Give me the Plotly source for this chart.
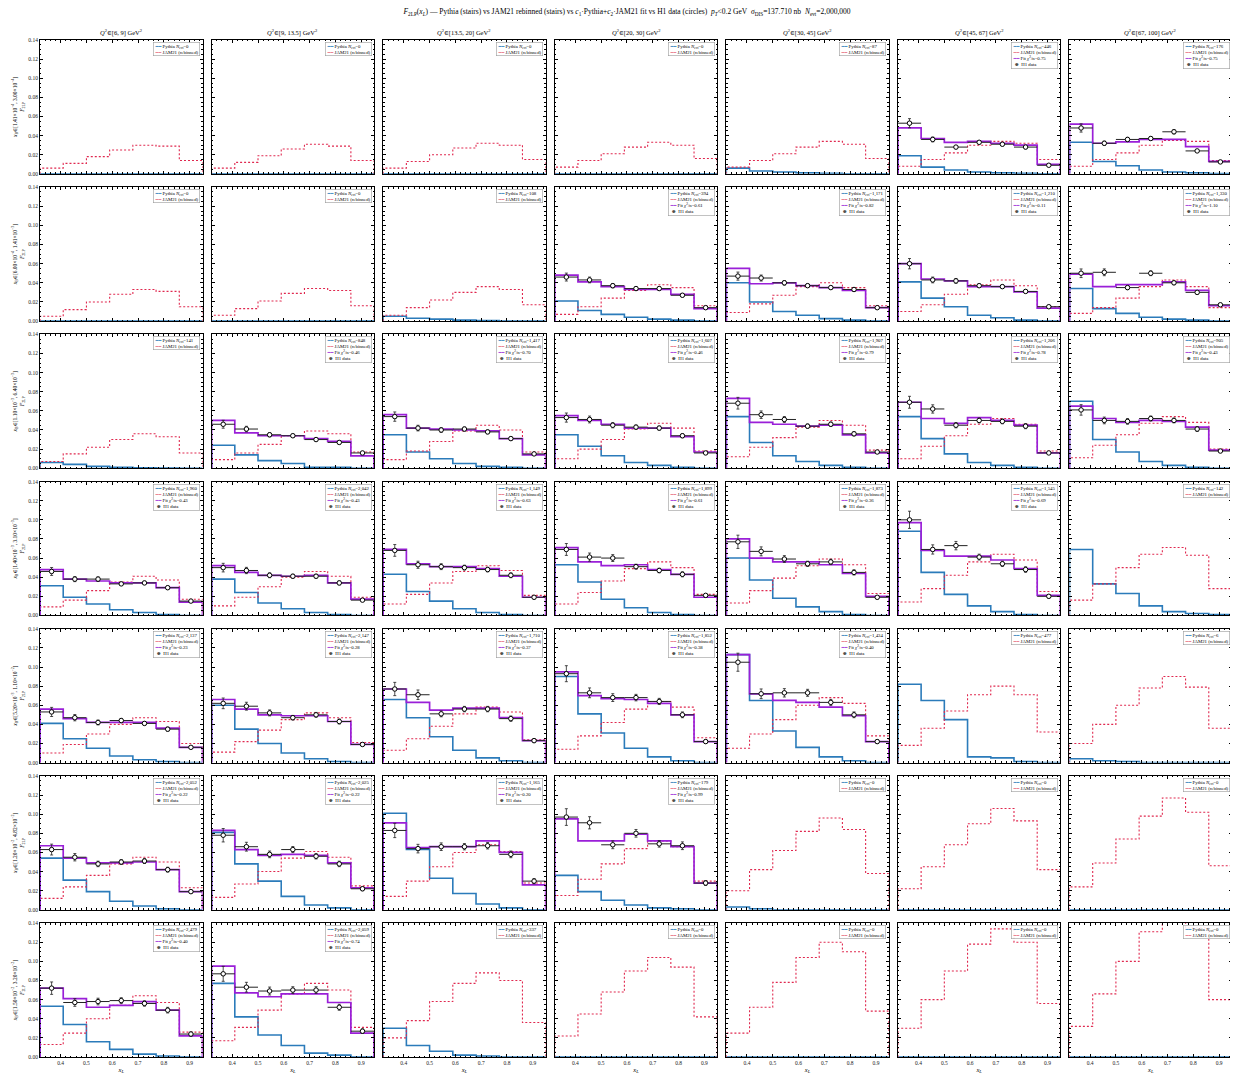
import plotly.graph_objects as go
from plotly.subplots import make_subplots

# ---------------- data ----------------
XL_EDGES = [0.32, 0.41, 0.50, 0.59, 0.68, 0.77, 0.86, 0.95]
Q2_BINS = ["[6, 9]", "[9, 13.5]", "[13.5, 20]", "[20, 30]", "[30, 45]", "[45, 67]", "[67, 100]"]
XB_BINS = [
    ("1.41", "4", "3.00", "4"),
    ("6.00", "4", "1.41", "3"),
    ("1.10", "3", "6.40", "3"),
    ("1.40", "3", "3.10", "3"),
    ("5.20", "3", "1.10", "2"),
    ("1.20", "2", "4.82", "2"),
    ("1.50", "2", "3.20", "2"),
]
Z = [0, 0, 0, 0, 0, 0, 0]

PYTHIA_R1 = [Z, Z, Z, Z,
             [0.006, 0.003, 0.002, 0.001, 0.0005, 0, 0],
             [0.019, 0.007, 0.004, 0.002, 0.001, 0.0005, 0],
             [0.033, 0.013, 0.0085, 0.004, 0.002, 0.001, 0.0004]]
PYTHIA_R2 = [Z, Z,
             [0.005, 0.003, 0.002, 0.001, 0.0005, 0, 0],
             [0.021, 0.011, 0.007, 0.004, 0.002, 0.001, 0],
             [0.040, 0.020, 0.010, 0.006, 0.0025, 0.001, 0],
             [0.041, 0.024, 0.015, 0.006, 0.0035, 0.001, 0],
             [0.034, 0.013, 0.008, 0.004, 0.002, 0.001, 0]]
PYTHIA_R3 = [[0.006, 0.004, 0.002, 0.001, 0.0005, 0.0003, 0],
             [0.024, 0.014, 0.008, 0.005, 0.001, 0.001, 0],
             [0.035, 0.017, 0.010, 0.005, 0.002, 0.001, 0],
             [0.035, 0.023, 0.013, 0.006, 0.003, 0.001, 0],
             [0.054, 0.027, 0.013, 0.007, 0.003, 0.001, 0],
             [0.054, 0.031, 0.015, 0.006, 0.003, 0.001, 0],
             [0.070, 0.030, 0.017, 0.007, 0.003, 0.001, 0]]
PYTHIA_R4 = [[0.031, 0.019, 0.012, 0.006, 0.003, 0.001, 0],
             [0.038, 0.024, 0.013, 0.007, 0.003, 0.001, 0],
             [0.043, 0.025, 0.015, 0.007, 0.003, 0.001, 0],
             [0.053, 0.035, 0.017, 0.008, 0.003, 0.001, 0],
             [0.060, 0.037, 0.018, 0.009, 0.004, 0.001, 0],
             [0.088, 0.045, 0.022, 0.010, 0.004, 0.001, 0],
             [0.069, 0.033, 0.023, 0.010, 0.004, 0.002, 0.001]]
PYTHIA_R5 = [[0.041, 0.025, 0.015, 0.007, 0.003, 0.001, 0],
             [0.060, 0.035, 0.020, 0.010, 0.004, 0.001, 0],
             [0.066, 0.047, 0.027, 0.013, 0.005, 0.002, 0],
             [0.090, 0.051, 0.031, 0.015, 0.006, 0.002, 0],
             [0.113, 0.065, 0.033, 0.016, 0.006, 0.002, 0],
             [0.082, 0.065, 0.045, 0.006, 0.005, 0.001, 0],
             [0.004, 0.002, 0.001, 0, 0, 0, 0]]
PYTHIA_R6 = [[0.054, 0.031, 0.019, 0.009, 0.004, 0.001, 0],
             [0.081, 0.048, 0.030, 0.014, 0.005, 0.002, 0],
             [0.101, 0.063, 0.033, 0.017, 0.006, 0.002, 0],
             [0.036, 0.019, 0.010, 0.005, 0.002, 0.001, 0],
             [0.003, 0.001, 0, 0, 0, 0, 0], Z, Z]
PYTHIA_R7 = [[0.053, 0.034, 0.016, 0.008, 0.003, 0.001, 0],
             [0.077, 0.042, 0.023, 0.012, 0.004, 0.002, 0],
             [0.030, 0.012, 0.006, 0.002, 0.001, 0, 0], Z, Z, Z, Z]

JAM_R1 = [[0.006, 0.011, 0.018, 0.025, 0.030, 0.029, 0.014],
          [0.006, 0.012, 0.019, 0.026, 0.031, 0.029, 0.014],
          [0.006, 0.013, 0.020, 0.027, 0.032, 0.030, 0.015],
          [0.007, 0.014, 0.021, 0.028, 0.033, 0.030, 0.016],
          [0.007, 0.014, 0.021, 0.028, 0.034, 0.031, 0.016],
          [0.008, 0.015, 0.022, 0.030, 0.034, 0.032, 0.015],
          [0.008, 0.015, 0.022, 0.030, 0.035, 0.034, 0.014]]
JAM_R2 = [[0.005, 0.012, 0.020, 0.028, 0.033, 0.031, 0.015],
          [0.006, 0.013, 0.021, 0.029, 0.034, 0.032, 0.016],
          [0.006, 0.014, 0.022, 0.030, 0.036, 0.033, 0.017],
          [0.007, 0.015, 0.024, 0.032, 0.038, 0.035, 0.016],
          [0.009, 0.018, 0.027, 0.036, 0.040, 0.035, 0.016],
          [0.010, 0.017, 0.028, 0.038, 0.043, 0.037, 0.015],
          [0.008, 0.014, 0.024, 0.036, 0.043, 0.036, 0.014]]
JAM_R3 = [[0.007, 0.015, 0.022, 0.030, 0.036, 0.033, 0.016],
          [0.009, 0.016, 0.025, 0.034, 0.039, 0.036, 0.017],
          [0.009, 0.018, 0.028, 0.039, 0.045, 0.040, 0.017],
          [0.010, 0.020, 0.030, 0.041, 0.047, 0.042, 0.018],
          [0.012, 0.022, 0.032, 0.043, 0.050, 0.045, 0.019],
          [0.010, 0.023, 0.034, 0.046, 0.052, 0.046, 0.018],
          [0.011, 0.024, 0.035, 0.047, 0.054, 0.048, 0.020]]
JAM_R4 = [[0.009, 0.016, 0.026, 0.035, 0.041, 0.037, 0.017],
          [0.010, 0.019, 0.030, 0.040, 0.046, 0.041, 0.019],
          [0.012, 0.022, 0.034, 0.046, 0.052, 0.047, 0.021],
          [0.012, 0.024, 0.036, 0.049, 0.056, 0.050, 0.022],
          [0.013, 0.026, 0.039, 0.052, 0.059, 0.053, 0.023],
          [0.014, 0.028, 0.042, 0.056, 0.064, 0.058, 0.025],
          [0.016, 0.033, 0.050, 0.064, 0.071, 0.063, 0.028]]
JAM_R5 = [[0.010, 0.019, 0.030, 0.040, 0.047, 0.043, 0.020],
          [0.011, 0.022, 0.034, 0.045, 0.052, 0.047, 0.021],
          [0.013, 0.025, 0.038, 0.051, 0.058, 0.053, 0.024],
          [0.014, 0.028, 0.042, 0.056, 0.064, 0.058, 0.026],
          [0.015, 0.030, 0.045, 0.060, 0.068, 0.062, 0.028],
          [0.018, 0.036, 0.054, 0.071, 0.080, 0.071, 0.032],
          [0.020, 0.040, 0.060, 0.078, 0.090, 0.079, 0.036]]
JAM_R6 = [[0.012, 0.024, 0.036, 0.048, 0.055, 0.050, 0.023],
          [0.013, 0.027, 0.040, 0.054, 0.061, 0.055, 0.025],
          [0.014, 0.030, 0.045, 0.060, 0.068, 0.061, 0.028],
          [0.015, 0.032, 0.048, 0.064, 0.072, 0.066, 0.030],
          [0.020, 0.042, 0.062, 0.082, 0.096, 0.084, 0.038],
          [0.022, 0.045, 0.068, 0.090, 0.106, 0.093, 0.042],
          [0.024, 0.049, 0.074, 0.098, 0.117, 0.102, 0.046]]
JAM_R7 = [[0.013, 0.025, 0.040, 0.054, 0.064, 0.057, 0.026],
          [0.017, 0.031, 0.049, 0.066, 0.077, 0.070, 0.031],
          [0.020, 0.038, 0.058, 0.077, 0.088, 0.080, 0.036],
          [0.022, 0.045, 0.068, 0.090, 0.104, 0.094, 0.042],
          [0.025, 0.052, 0.078, 0.104, 0.120, 0.110, 0.048],
          [0.030, 0.060, 0.090, 0.118, 0.134, 0.120, 0.056],
          [0.032, 0.066, 0.100, 0.131, 0.150, 0.135, 0.060]]

FIT_R1 = [None, None, None, None, None,
          [0.048, 0.037, 0.033, 0.034, 0.032, 0.030, 0.010],
          [0.052, 0.032, 0.0335, 0.036, 0.036, 0.0285, 0.013]]
FIT_R2 = [None, None, None,
          [0.048, 0.041, 0.036, 0.033, 0.033, 0.028, 0.013],
          [0.055, 0.039, 0.040, 0.037, 0.035, 0.032, 0.014],
          [0.060, 0.044, 0.042, 0.036, 0.036, 0.0305, 0.0135],
          [0.049, 0.036, 0.038, 0.038, 0.041, 0.032, 0.016]]
FIT_R3 = [None,
          [0.050, 0.037, 0.034, 0.034, 0.031, 0.028, 0.013],
          [0.056, 0.042, 0.041, 0.040, 0.039, 0.031, 0.014],
          [0.055, 0.050, 0.046, 0.042, 0.042, 0.033, 0.017],
          [0.073, 0.048, 0.046, 0.044, 0.045, 0.035, 0.016],
          [0.069, 0.052, 0.047, 0.053, 0.050, 0.045, 0.016],
          [0.065, 0.052, 0.048, 0.050, 0.049, 0.043, 0.019]]
FIT_R4 = [[0.048, 0.038, 0.036, 0.034, 0.034, 0.029, 0.014],
          [0.052, 0.045, 0.042, 0.041, 0.042, 0.034, 0.017],
          [0.069, 0.054, 0.051, 0.051, 0.049, 0.041, 0.019],
          [0.071, 0.056, 0.052, 0.053, 0.048, 0.043, 0.019],
          [0.080, 0.060, 0.056, 0.056, 0.053, 0.044, 0.020],
          [0.097, 0.068, 0.062, 0.062, 0.058, 0.049, 0.021],
          None]
FIT_R5 = [[0.056, 0.046, 0.042, 0.042, 0.042, 0.036, 0.016],
          [0.066, 0.056, 0.050, 0.049, 0.049, 0.043, 0.019],
          [0.077, 0.063, 0.055, 0.057, 0.057, 0.047, 0.023],
          [0.095, 0.070, 0.067, 0.066, 0.062, 0.050, 0.022],
          [0.113, 0.072, 0.065, 0.063, 0.058, 0.049, 0.022],
          None, None]
FIT_R6 = [[0.067, 0.054, 0.049, 0.049, 0.050, 0.042, 0.019],
          [0.083, 0.063, 0.057, 0.058, 0.057, 0.049, 0.023],
          [0.091, 0.065, 0.066, 0.066, 0.072, 0.060, 0.026],
          [0.095, 0.072, 0.072, 0.079, 0.072, 0.066, 0.028],
          None, None, None]
FIT_R7 = [[0.072, 0.061, 0.052, 0.054, 0.058, 0.049, 0.022],
          [0.095, 0.067, 0.063, 0.066, 0.066, 0.057, 0.025],
          None, None, None, None, None]

H1_R1 = [None, None, None, None, None,
         [0.053, 0.036, 0.028, 0.033, 0.031, 0.028, 0.009],
         [0.048, 0.032, 0.036, 0.037, 0.044, 0.024, 0.0125]]
H1_R2 = [None, None, None,
         [0.046, 0.043, 0.037, 0.034, 0.034, 0.027, 0.014],
         [0.047, 0.045, 0.040, 0.037, 0.035, 0.033, 0.014],
         [0.060, 0.043, 0.042, 0.037, 0.036, 0.031, 0.015],
         [0.050, 0.051, 0.035, 0.050, 0.040, 0.030, 0.017]]
H1_R3 = [None,
         [0.046, 0.041, 0.035, 0.034, 0.030, 0.027, 0.016],
         [0.054, 0.042, 0.040, 0.041, 0.038, 0.031, 0.015],
         [0.053, 0.051, 0.045, 0.043, 0.042, 0.034, 0.016],
         [0.068, 0.056, 0.051, 0.044, 0.046, 0.036, 0.017],
         [0.069, 0.062, 0.045, 0.050, 0.049, 0.044, 0.016],
         [0.061, 0.050, 0.049, 0.052, 0.050, 0.041, 0.018]]
H1_R4 = [[0.046, 0.038, 0.038, 0.033, 0.034, 0.029, 0.015],
         [0.050, 0.047, 0.042, 0.041, 0.041, 0.034, 0.016],
         [0.068, 0.053, 0.051, 0.050, 0.048, 0.042, 0.019],
         [0.069, 0.061, 0.060, 0.051, 0.047, 0.043, 0.021],
         [0.077, 0.067, 0.059, 0.054, 0.056, 0.045, 0.019],
         [0.100, 0.069, 0.073, 0.061, 0.054, 0.048, 0.020],
         None]
H1_R5 = [[0.053, 0.047, 0.042, 0.044, 0.041, 0.035, 0.016],
         [0.062, 0.059, 0.052, 0.047, 0.050, 0.043, 0.019],
         [0.077, 0.071, 0.051, 0.056, 0.056, 0.046, 0.023],
         [0.093, 0.073, 0.068, 0.068, 0.064, 0.050, 0.022],
         [0.105, 0.072, 0.073, 0.073, 0.063, 0.050, 0.022],
         None, None]
H1_R6 = [[0.063, 0.055, 0.048, 0.050, 0.051, 0.042, 0.019],
         [0.078, 0.066, 0.058, 0.063, 0.056, 0.048, 0.022],
         [0.083, 0.064, 0.066, 0.066, 0.067, 0.058, 0.030],
         [0.097, 0.091, 0.068, 0.080, 0.069, 0.067, 0.028],
         None, None, None]
H1_R7 = [[0.072, 0.057, 0.058, 0.059, 0.056, 0.049, 0.024],
         [0.087, 0.073, 0.069, 0.070, 0.070, 0.052, 0.027],
         None, None, None, None, None]
H1_REL_ERR = [0.09, 0.07, 0.06, 0.05, 0.05, 0.06, 0.09]

NEVT = [[0, 0, 0, 0, 87, 446, 176],
        [0, 0, 108, 394, 1171, 1210, 1330],
        [141, 848, 1417, 1607, 1907, 1206, 905],
        [1960, 2042, 1149, 1899, 1873, 1545, 142],
        [2137, 2147, 1710, 1852, 1434, 477, 6],
        [2052, 2025, 1165, 179, 0, 0, 0],
        [2479, 2059, 337, 0, 0, 0, 0]]
CHI2 = [[None, None, None, None, None, 0.75, 0.75],
        [None, None, None, 0.61, 0.82, 0.11, 1.10],
        [None, 0.46, 0.70, 0.46, 0.79, 0.78, 0.43],
        [0.43, 0.43, 0.63, 0.61, 0.36, 0.69, None],
        [0.23, 0.28, 0.37, 0.38, 0.40, None, None],
        [0.22, 0.22, 0.20, 0.99, None, None, None],
        [0.40, 0.74, None, None, None, None, None]]

PYTHIA = [PYTHIA_R1, PYTHIA_R2, PYTHIA_R3, PYTHIA_R4, PYTHIA_R5, PYTHIA_R6, PYTHIA_R7]
JAM = [JAM_R1, JAM_R2, JAM_R3, JAM_R4, JAM_R5, JAM_R6, JAM_R7]
FIT = [FIT_R1, FIT_R2, FIT_R3, FIT_R4, FIT_R5, FIT_R6, FIT_R7]
H1 = [H1_R1, H1_R2, H1_R3, H1_R4, H1_R5, H1_R6, H1_R7]

# ---------------- style ----------------
FONT = "Liberation Serif, DejaVu Serif, serif"
C_PY = "#2b7bba"
C_JAM = "#e0284f"
C_FIT = "#9a1fd8"
NR, NC = 7, 7

fig = make_subplots(rows=NR, cols=NC, horizontal_spacing=0.0076, vertical_spacing=0.0131)


def stairs(vals):
    xs = [XL_EDGES[0]] + list(XL_EDGES) + [XL_EDGES[-1]]
    ys = [0] + list(vals) + [vals[-1], 0]
    return xs, ys


centers = [(XL_EDGES[i] + XL_EDGES[i + 1]) / 2 for i in range(7)]
halfw = [(XL_EDGES[i + 1] - XL_EDGES[i]) / 2 for i in range(7)]

for r in range(NR):
    for c in range(NC):
        k = r * NC + c + 1
        row, col = r + 1, c + 1
        xr = "x" if k == 1 else f"x{k}"
        yr = "y" if k == 1 else f"y{k}"
        xs, ys = stairs(PYTHIA[r][c])
        fig.add_trace(go.Scatter(x=xs, y=ys, mode="lines", line=dict(color=C_PY, width=1.6, shape="hv"),
                                 showlegend=False), row=row, col=col)
        xs, ys = stairs(JAM[r][c])
        fig.add_trace(go.Scatter(x=xs, y=ys, mode="lines",
                                 line=dict(color=C_JAM, width=1.1, dash="2px,2px", shape="hv"),
                                 showlegend=False), row=row, col=col)
        has_data = FIT[r][c] is not None
        if has_data:
            xs, ys = stairs(FIT[r][c])
            fig.add_trace(go.Scatter(x=xs, y=ys, mode="lines", line=dict(color=C_FIT, width=1.7, shape="hv"),
                                     showlegend=False), row=row, col=col)
            yv = H1[r][c]
            yerr = [v * e for v, e in zip(yv, H1_REL_ERR)]
            fig.add_trace(go.Scatter(x=centers, y=yv, mode="markers",
                                     marker=dict(symbol="circle", size=4.5, color="white",
                                                 line=dict(width=1, color="black")),
                                     error_x=dict(type="data", array=halfw, color="#222", thickness=1, width=0),
                                     error_y=dict(type="data", array=yerr, color="#222", thickness=0.8, width=1.5),
                                     showlegend=False), row=row, col=col)
        # compact legend box
        lines = ["<span style='color:%s'>━━</span> Pythia <i>N</i><sub>evt</sub>=%s" % (C_PY, f"{NEVT[r][c]:,}"),
                 "<span style='color:%s'>┅┅</span> JAM21 (rebinned)" % C_JAM]
        if has_data:
            lines.append("<span style='color:%s'>━━</span> Fit <i>χ</i><sup>2</sup>/n=%.2f" % (C_FIT, CHI2[r][c]))
            lines.append(" ⊕  H1 data")
        fig.add_annotation(text="<br>".join(lines), xref=f"{xr} domain", yref=f"{yr} domain",
                           x=0.985, y=0.985, xanchor="right", yanchor="top", align="left",
                           showarrow=False, font=dict(family=FONT, size=4.8, color="black"),
                           bgcolor="rgba(255,255,255,0.9)", bordercolor="#9a9a9a", borderwidth=0.6,
                           borderpad=1)
        if r == 0:
            fig.add_annotation(text="<i>Q</i><sup>2</sup>∈%s GeV<sup>2</sup>" % Q2_BINS[c],
                               xref=f"{xr} domain", yref=f"{yr} domain", x=0.5, y=1.0,
                               xanchor="center", yanchor="bottom", yshift=1, showarrow=False,
                               font=dict(family=FONT, size=6.5, color="black"))

axis_common = dict(showline=True, linecolor="black", linewidth=0.9, mirror="ticks",
                   ticks="inside", ticklen=3, tickwidth=0.7, tickcolor="black",
                   showgrid=False, zeroline=False,
                   tickfont=dict(family=FONT, size=5.5, color="#222"))
for r in range(NR):
    for c in range(NC):
        k = r * NC + c + 1
        xa = "xaxis" if k == 1 else f"xaxis{k}"
        ya = "yaxis" if k == 1 else f"yaxis{k}"
        xb = XB_BINS[r]
        fig.layout[xa].update(axis_common)
        fig.layout[xa].update(range=[XL_EDGES[0], XL_EDGES[-1]], tickvals=[0.4, 0.5, 0.6, 0.7, 0.8, 0.9],
                              ticktext=["0.4", "0.5", "0.6", "0.7", "0.8", "0.9"],
                              showticklabels=(r == NR - 1),
                              minor=dict(ticks="inside", ticklen=1.5, dtick=0.02, tick0=0.3,
                                         tickwidth=0.5, tickcolor="black", showgrid=False))
        fig.layout[ya].update(axis_common)
        fig.layout[ya].update(range=[0, 0.14], dtick=0.02, tick0=0, tickformat=".2f",
                              showticklabels=(c == 0),
                              minor=dict(ticks="inside", ticklen=1.5, dtick=0.005,
                                         tickwidth=0.5, tickcolor="black", showgrid=False))
        if c == 0:
            fig.layout[ya].title = dict(
                text="<i>x</i><sub>B</sub>∈[%s×10<sup>−%s</sup>, %s×10<sup>−%s</sup>]<br><i>F</i><sub>2LP</sub>" % xb,
                font=dict(family=FONT, size=5.5, color="black"), standoff=3)
        if r == NR - 1:
            fig.layout[xa].title = dict(text="<i>x<sub>L</sub></i>",
                                        font=dict(family=FONT, size=6.5, color="black"), standoff=2)

sp = "\u00a0\u00a0"
title = ("<i>F</i><sub>2LP</sub>(<i>x<sub>L</sub></i>) — Pythia (stairs) vs JAM21 rebinned (stairs) vs "
         "<i>c</i><sub>1</sub>·Pythia+<i>c</i><sub>2</sub>·JAM21 fit vs H1 data (circles)" + sp +
         "<i>p<sub>T</sub></i><0.2 GeV" + sp + "<i>σ</i><sub>DIS</sub>=137.710 nb" + sp +
         "<i>N</i><sub>evt</sub>=2,000,000")
fig.update_layout(
    width=1238, height=1080,
    margin=dict(l=32, r=14, t=32, b=31, autoexpand=False),
    paper_bgcolor="white", plot_bgcolor="white",
    showlegend=False,
    title=dict(text=title, x=0.5, xanchor="center", y=0.999, yanchor="top",
               font=dict(family=FONT, size=7.5, color="black")),
    font=dict(family=FONT, color="black"),
)
fig.write_html("out.html")
